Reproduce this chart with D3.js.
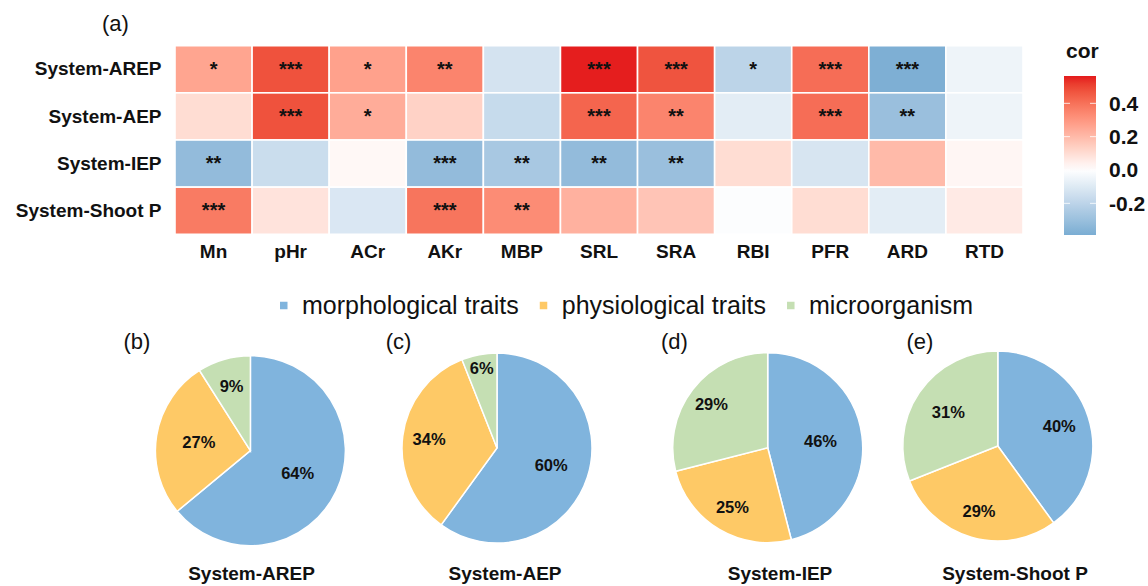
<!DOCTYPE html>
<html>
<head>
<meta charset="utf-8">
<script src="https://cdn.jsdelivr.net/npm/d3@7"></script>
<style>
    body { margin: 0; background: #fff; }
    svg { display: block; font-family: "Liberation Sans", Arial, sans-serif; }
</style>
</head>
<body>
<div id="chart"></div>
<script>
// ---- data ----
const traits = ["Mn", "pHr", "ACr", "AKr", "MBP", "SRL", "SRA", "RBI", "PFR", "ARD", "RTD"];
const systems = ["System-AREP", "System-AEP", "System-IEP", "System-Shoot P"];

// correlation values
const corAREP   = [0.26, 0.475, 0.27, 0.35, -0.13, 0.56, 0.47, -0.20, 0.41, -0.38, -0.05];
const corAEP    = [0.10, 0.475, 0.24, 0.13, -0.17, 0.43, 0.35, -0.085, 0.41, -0.30, -0.05];
const corIEP    = [-0.32, -0.16, 0.02, -0.32, -0.26, -0.32, -0.30, 0.10, -0.12, 0.20, 0.025];
const corShootP = [0.375, 0.08, -0.11, 0.39, 0.33, 0.225, 0.17, -0.01, 0.10, -0.085, 0.06];

const sigAREP   = ["*", "***", "*", "**", "", "***", "***", "*", "***", "***", ""];
const sigAEP    = ["", "***", "*", "", "", "***", "**", "", "***", "**", ""];
const sigIEP    = ["**", "", "", "***", "**", "**", "**", "", "", "", ""];
const sigShootP = ["***", "", "", "***", "**", "", "", "", "", "", ""];

const corMin = -0.39;
const corMax = 0.564;
const colorTicks = [-0.2, 0, 0.2, 0.4];

const categories = ["morphological traits", "physiological traits", "microorganism"];
const pieTitles = ["System-AREP", "System-AEP", "System-IEP", "System-Shoot P"];
const pieTags = ["(b)", "(c)", "(d)", "(e)"];
const shareAREP = [64, 27, 9];
const shareAEP = [60, 34, 6];
const shareIEP = [46, 25, 29];
const shareShootP = [40, 29, 31];

// ---- layout ----
const width = 1148;
const height = 586;
const heatLeft = 175, heatRight = 1023, heatTop = 45.7, heatBottom = 234.3;
const barLeft = 1064, barWidth = 32, barTop = 76, barBottom = 235;
const pieRadius = 95;
const pieCx = [250.4, 497, 767.7, 997.8];
const pieCy = [450.7, 448, 447.7, 446];
const pieTitleX = [251.5, 505, 780, 1015];
const pieTagX = [137, 398.5, 674.5, 920];
// how far out (fraction of radius) each percent label sits
const labelRadius = [
    [0.55, 0.55, 0.71],
    [0.60, 0.72, 0.86],
    [0.56, 0.73, 0.75],
    [0.68, 0.71, 0.63],
];

const catColors = ["#80b4dd", "#fec966", "#c5dfb3"];
const textColor = "#111";

const svg = d3
    .select("#chart")
    .append("svg")
    .attr("width", width)
    .attr("height", height);

// ---- heatmap ----
const x = d3.scaleBand().domain(traits).range([heatLeft, heatRight]);
const y = d3.scaleBand().domain(systems).range([heatTop, heatBottom]);

const color = d3
    .scaleLinear()
    .domain([corMin, 0, corMax])
    .range(["#7aadd3", "#ffffff", "#e41a1c"])
    .interpolate(d3.interpolateLab);

const corRows = [corAREP, corAEP, corIEP, corShootP];
const sigRows = [sigAREP, sigAEP, sigIEP, sigShootP];
const cells = systems.flatMap((s, i) =>
    traits.map((t, j) => ({ system: s, trait: t, cor: corRows[i][j], sig: sigRows[i][j] }))
);

svg.append("g")
    .selectAll("rect")
    .data(cells)
    .join("rect")
    .attr("x", (d) => x(d.trait))
    .attr("y", (d) => y(d.system))
    .attr("width", x.bandwidth())
    .attr("height", y.bandwidth())
    .attr("fill", (d) => color(d.cor))
    .attr("stroke", "#fff")
    .attr("stroke-width", 1.6);

// significance stars
svg.append("g")
    .selectAll("text")
    .data(cells.filter((d) => d.sig))
    .join("text")
    .attr("x", (d) => x(d.trait) + x.bandwidth() / 2)
    .attr("y", (d) => y(d.system) + y.bandwidth() / 2 + 6.6)
    .attr("text-anchor", "middle")
    .attr("font-size", 20)
    .attr("font-weight", "bold")
    .attr("fill", textColor)
    .text((d) => d.sig);

// axes
function styleAxis(size) {
    return (g) => {
        g.select(".domain").remove();
        g.attr("font-family", null)
            .attr("font-size", size)
            .attr("font-weight", "bold");
        g.selectAll("text").attr("fill", textColor);
    };
}

svg.append("g")
    .attr("transform", `translate(0,${heatBottom})`)
    .call(d3.axisBottom(x).tickSize(0).tickPadding(10))
    .call(styleAxis(19));

svg.append("g")
    .attr("transform", `translate(${heatLeft},0)`)
    .call(d3.axisLeft(y).tickSize(0).tickPadding(13.5))
    .call(styleAxis(19));

svg.append("text")
    .attr("x", 115.5)
    .attr("y", 31)
    .attr("text-anchor", "middle")
    .attr("font-size", 22)
    .attr("fill", textColor)
    .text("(a)");

// ---- colour bar ----
const yc = d3.scaleLinear().domain([corMin, corMax]).range([barBottom, barTop]);

const grad = svg
    .append("defs")
    .append("linearGradient")
    .attr("id", "corGrad")
    .attr("x1", 0).attr("y1", 1)
    .attr("x2", 0).attr("y2", 0);

grad.selectAll("stop")
    .data(d3.range(0, 1.0001, 0.05))
    .join("stop")
    .attr("offset", (t) => t)
    .attr("stop-color", (t) => color(corMin + t * (corMax - corMin)));

svg.append("rect")
    .attr("x", barLeft)
    .attr("y", barTop)
    .attr("width", barWidth)
    .attr("height", barBottom - barTop)
    .attr("fill", "url(#corGrad)");

const tickMarks = svg.append("g");
colorTicks.forEach((v) => {
    tickMarks.append("line")
        .attr("x1", barLeft).attr("x2", barLeft + 6)
        .attr("y1", yc(v)).attr("y2", yc(v));
    tickMarks.append("line")
        .attr("x1", barLeft + barWidth - 6).attr("x2", barLeft + barWidth)
        .attr("y1", yc(v)).attr("y2", yc(v));
});
tickMarks.attr("stroke", "#fff").attr("stroke-width", 1).attr("stroke-opacity", 0.8);

svg.append("g")
    .attr("transform", `translate(${barLeft + barWidth},0)`)
    .call(d3.axisRight(yc).tickValues(colorTicks).tickFormat((d) => d.toFixed(1)).tickSize(0).tickPadding(13))
    .call(styleAxis(21));

svg.append("text")
    .attr("x", barLeft + 2)
    .attr("y", 58)
    .attr("font-size", 21)
    .attr("font-weight", "bold")
    .attr("fill", textColor)
    .text("cor");

// ---- legend ----
const legend = svg.append("g").attr("transform", "translate(280,305.5)");
let lx = 0;
categories.forEach((c, i) => {
    legend.append("rect")
        .attr("x", lx)
        .attr("y", -3.75)
        .attr("width", 7.5)
        .attr("height", 7.5)
        .attr("fill", catColors[i]);
    const t = legend.append("text")
        .attr("x", lx + 22)
        .attr("y", 8.5)
        .attr("font-size", 25)
        .attr("fill", textColor)
        .text(c);
    lx += 22 + t.node().getComputedTextLength() + 21;
});

// ---- pies ----
const shares = [shareAREP, shareAEP, shareIEP, shareShootP];
const pie = d3.pie().sort(null).value((d) => d);
const arc = d3.arc().innerRadius(0).outerRadius(pieRadius);

shares.forEach((vals, p) => {
    const g = svg.append("g").attr("transform", `translate(${pieCx[p]},${pieCy[p]})`);
    const arcs = pie(vals);

    g.selectAll("path")
        .data(arcs)
        .join("path")
        .attr("d", arc)
        .attr("fill", (d, i) => catColors[i])
        .attr("stroke", "#fff")
        .attr("stroke-width", 1.5);

    g.selectAll("text")
        .data(arcs)
        .join("text")
        .attr("transform", (d, i) => {
            const r = pieRadius * labelRadius[p][i];
            const [lxp, lyp] = d3.arc().innerRadius(r).outerRadius(r).centroid(d);
            return `translate(${lxp},${lyp})`;
        })
        .attr("dy", "0.35em")
        .attr("text-anchor", "middle")
        .attr("font-size", 16.5)
        .attr("font-weight", "bold")
        .attr("fill", textColor)
        .text((d) => `${d.data}%`);

    svg.append("text")
        .attr("x", pieTitleX[p])
        .attr("y", 580)
        .attr("text-anchor", "middle")
        .attr("font-size", 19)
        .attr("font-weight", "bold")
        .attr("fill", textColor)
        .text(pieTitles[p]);

    svg.append("text")
        .attr("x", pieTagX[p])
        .attr("y", 349)
        .attr("text-anchor", "middle")
        .attr("font-size", 22)
        .attr("fill", textColor)
        .text(pieTags[p]);
});
</script>
</body>
</html>
